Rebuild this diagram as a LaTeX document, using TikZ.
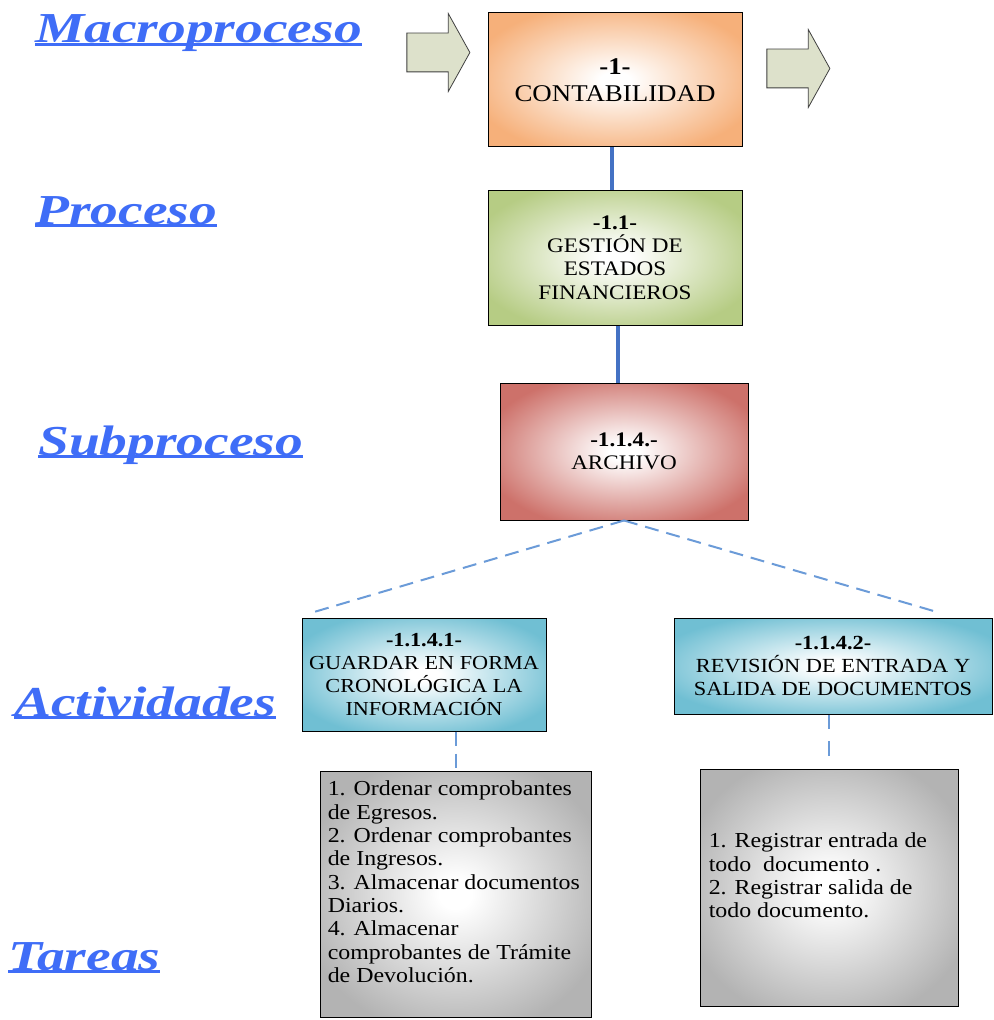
\documentclass[tikz,border=0pt]{standalone}
\usepackage{fontspec}
\setmainfont{Liberation Serif}[FakeStretch=1.12]
\newfontfamily\titulo{Liberation Serif}[FakeStretch=1.3]
\usetikzlibrary{shapes.arrows,calc}
\newcommand{\rayado}[1]{\setbox0\hbox{#1}\rlap{\vrule height -0.3pt depth 2.6pt width \wd0}\box0}
\definecolor{nivelazul}{HTML}{3F6DF7}
\definecolor{macro}{HTML}{F6B07A}
\definecolor{proc}{HTML}{B6CC84}
\definecolor{subproc}{HTML}{CD716A}
\definecolor{activ}{HTML}{70BFD3}
\definecolor{tarea}{HTML}{B3B3B3}
\definecolor{flechaverde}{HTML}{DDE1CB}
\definecolor{enlaceazul}{HTML}{4472C4}
\definecolor{ramaazul}{HTML}{6B9BD8}
\colorlet{boxtone}{white}
\pgfdeclareradialshading[boxtone]{boxglow}{\pgfpointorigin}{color(0bp)=(white); color(3bp)=(white); color(29bp)=(boxtone); color(50bp)=(boxtone)}

\begin{document}
\begin{tikzpicture}[x=0.75pt,y=-0.75pt,
  nivel/.style={anchor=base west,text=nivelazul,inner sep=0pt,font=\titulo\fontsize{32}{38}\selectfont\bfseries\itshape},
  caja/.style={draw=black,line width=0.75pt,shading=boxglow,/utils/exec={\colorlet{boxtone}{#1}},
    align=center,inner sep=0pt,font=\fontsize{15.5}{17.6}\selectfont},
  lista/.style={anchor=west,align=left,inner sep=0pt,font=\fontsize{16}{17.5}\selectfont},
  flecha/.style={single arrow,draw=black!75,fill=flechaverde,line width=0.6pt,
    minimum height=47.25pt,minimum width=57.75pt,inner xsep=0pt,inner ysep=14.25pt,
    text height=0pt,text depth=0pt,single arrow head extend=14.6pt,single arrow tip angle=122},
  enlace/.style={draw=enlaceazul,line width=3pt},
  rama/.style={draw=ramaazul,line width=1.5pt,dash pattern=on 10.5pt off 6pt}]
  \useasboundingbox (0,0) rectangle (993,1020);

  % niveles
  \node[nivel] (tmacro) at (35,43) {\rayado{Macroproceso}};
  \node[nivel] (tproc) at (35,224) {\rayado{Proceso}};
  \node[nivel] (tsub) at (38,455) {\rayado{Subproceso}};
  \node[nivel] (tact) at (14,716) {\rayado{Actividades}};
  \node[nivel] (ttar) at (8,970) {\rayado{Tareas}};

  % cajas
  \node[caja=macro,font=\fontsize{18}{20.2}\selectfont,minimum width=190.5pt,minimum height=100.5pt] (contab) at (615,80)
    {\textbf{-1-}\\CONTABILIDAD};
  \node[caja=proc,minimum width=190.5pt,minimum height=101.25pt] (gestion) at (615,257.5)
    {\textbf{-1.1-}\\GESTIÓN DE\\ESTADOS\\FINANCIEROS};
  \node[caja=subproc,minimum width=186pt,minimum height=102.75pt] (archivo) at (624,451.5)
    {\textbf{-1.1.4.-}\\ARCHIVO};
  \node[caja=activ,font=\fontsize{14.9}{17.3}\selectfont,minimum width=183pt,minimum height=84.75pt] (act1) at (424,674.5)
    {\textbf{-1.1.4.1-}\\GUARDAR EN FORMA\\CRONOLÓGICA LA\\INFORMACIÓN};
  \node[caja=activ,font=\fontsize{15}{17.6}\selectfont,minimum width=238.5pt,minimum height=72pt] (act2) at (833,666)
    {\textbf{-1.1.4.2-}\\REVISIÓN DE ENTRADA Y\\SALIDA DE DOCUMENTOS};
  \node[caja=tarea,minimum width=203.25pt,minimum height=184.5pt] (task1) at (455.5,894) {};
  \node[caja=tarea,minimum width=193.5pt,minimum height=177.75pt] (task2) at (829,887.5) {};
  \node[lista] (lista1) at ($(task1.west)+(8,-12)$)
    {1. Ordenar comprobantes\\de Egresos.\\2. Ordenar comprobantes\\de Ingresos.\\3. Almacenar documentos\\Diarios.\\4. Almacenar\\comprobantes de Trámite\\de Devolución.};
  \node[lista] (lista2) at ($(task2.west)+(9,-12)$)
    {1. Registrar entrada de\\todo~~documento .\\2. Registrar salida de\\todo documento.};

  % flechas
  \node[flecha] (entra) at (433,52.5) {};
  \node[flecha] (sale) at (793,68.5) {};

  % enlaces
  \coordinate (g1) at ($(contab.south)+(-3,0)$);
  \coordinate (g2) at ($(gestion.south)+(3,0)$);
  \draw[enlace] (g1) -- (g1 |- gestion.north);
  \draw[enlace] (g2) -- (g2 |- archivo.north);
  \coordinate (izq) at (314,612);
  \coordinate (der) at (937,612);
  \draw[rama] (archivo.south) -- (izq);
  \draw[rama] (archivo.south) -- (der);
  \coordinate (a1) at ($(act1.south)+(32,0)$);
  \draw[rama] (a1) -- (a1 |- task1.north);
  \coordinate (a2) at ($(act2.south)+(-4,0)$);
  \coordinate (a2fin) at ($(a2)+(0,46)$);
  \draw[rama,dash pattern=on 11pt off 9pt] (a2) -- (a2fin);
\end{tikzpicture}
\end{document}
